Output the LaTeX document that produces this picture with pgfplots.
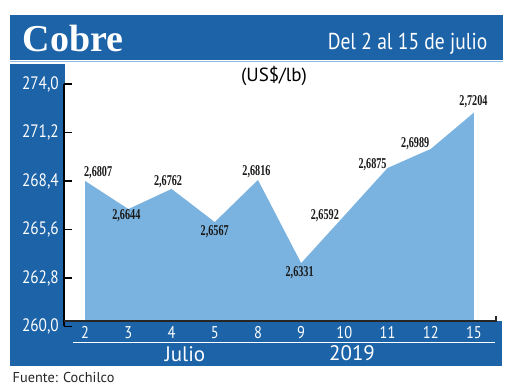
\documentclass[border=0pt]{standalone}
\usepackage{fontspec}
\setmainfont{PT Sans}
\newfontfamily\condsans[FakeStretch=0.85]{PT Sans}
\newfontfamily\labelfont[FakeStretch=0.68]{Liberation Serif}
\newfontfamily\titlefont{Liberation Serif}
\usepackage{pgfplots}
\usepackage{pgfplotstable}
\pgfplotsset{compat=1.18}
\definecolor{hdrblue}{HTML}{1C63A7}
\definecolor{areablue}{HTML}{7BB3E0}
\definecolor{lineblue}{HTML}{8DBBE2}

\pgfplotstableread{
x y lab dx dy
0 268.40 2,6807 13 8
1 266.78 2,6644 -2 -6.5
2 267.94 2,6762 -3.5 7
3 266.03 2,6567 0 -10
4 268.46 2,6816 -1.5 8.5
5 263.66 2,6331 -1.5 -10
6 266.40 2,6592 -19.5 0
7 269.15 2,6875 -15 3.5
8 270.25 2,6989 -15.5 5
9 272.35 2,7204 -0.5 11
}\datatable

% area outline: the series with the base of the area (260.32) at both ends
\pgfplotstableread{
x y
0 260.32
0 268.40
1 266.78
2 267.94
3 266.03
4 268.46
5 263.66
6 266.40
7 269.15
8 270.25
9 272.35
9 260.32
}\areatable

\begin{document}
\begin{tikzpicture}[x=1pt,y=1pt]
\fill[white] (0,0) rectangle (520,390);
% header
\fill[hdrblue] (10,330) rectangle (503,375);
\draw[lineblue, line width=1pt] (10,328.5) -- (503,328.5);
\node[anchor=base west, inner sep=0pt, text=white] at (22.5,338.3)
  {\titlefont\bfseries\fontsize{38}{38}\selectfont Cobre};
\node[anchor=base east, inner sep=0pt, text=white] at (487.5,340.7)
  {\condsans\fontsize{23}{23}\selectfont Del 2 al 15 de julio};
% left column and bottom band
\fill[hdrblue] (10,24) rectangle (64.5,325.7);
\fill[hdrblue] (10,24) rectangle (502,69);
\draw[white, line width=1.4pt] (73,47.7) -- (495,47.7);
\node[anchor=base, inner sep=0pt, text=white] at (185,28)
  {\fontsize{21}{21}\selectfont Julio};
\node[anchor=base, inner sep=0pt, text=white] at (352,29)
  {\fontsize{21}{21}\selectfont 2019};
\node[anchor=base, inner sep=0pt] at (274,308)
  {\fontsize{19}{19}\selectfont (US\$/lb)};
\node[anchor=base west, inner sep=0pt, text=black!85] at (12.5,7.5)
  {\fontsize{14.3}{14.3}\selectfont Fuente: Cochilco};

\begin{axis}[
  at={(64pt,63.5pt)}, anchor=south west,
  scale only axis, width=432pt, height=242.5pt,
  xmin=-0.49, xmax=9.51, ymin=260, ymax=274,
  clip=false,
  axis x line=bottom, axis y line=left,
  axis line style={-},
  x axis line style={draw=none},
  y axis line style={draw=black, line width=1.6pt},
  tick align=inside,
  major tick length=8pt,
  xtick={0,...,9},
  xticklabels={2,3,4,5,8,9,10,11,12,15},
  xtick style={draw=none},
  ytick={260,262.8,265.6,268.4,271.2,274},
  yticklabels={{260,0},{262,8},{265,6},{268,4},{271,2},{274,0}},
  ytick style={draw=black, line width=1.6pt},
  xticklabel style={anchor=north, inner sep=0pt, text=white,
     font=\condsans\fontsize{17}{17}\selectfont},
  yticklabel style={anchor=east, inner sep=0pt, xshift=-5pt, text=white,
     font=\condsans\fontsize{18}{18}\selectfont},
]
\addplot[fill=areablue, draw=none, mark=none] table[x=x, y=y] {\areatable};
\addplot[draw=black!85, line width=1.5pt, mark=none] coordinates {(-0.49,260.32) (9.51,260.32) (9.51,260.62)};
\addplot[draw=none, mark=none, nodes near coords, point meta=explicit symbolic,
  visualization depends on={\thisrow{dx}\as\dx},
  visualization depends on={\thisrow{dy}\as\dy},
  every node near coord/.append style={anchor=center, inner sep=0pt,
     xshift=\dx pt, yshift=\dy pt, text=black!90,
     font=\labelfont\bfseries\fontsize{15}{15}\selectfont}]
  table[x=x, y=y, meta=lab] {\datatable};
\end{axis}
\end{tikzpicture}
\end{document}
